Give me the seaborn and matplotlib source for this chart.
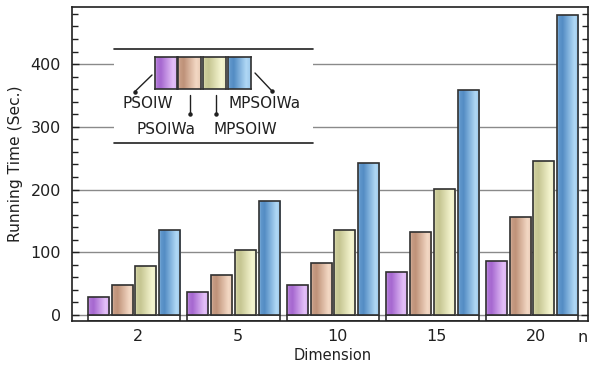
import numpy as np
import pandas as pd
import matplotlib
matplotlib.use("Agg")
import matplotlib.pyplot as plt
from matplotlib.colors import to_rgb
from matplotlib.patches import Rectangle
from matplotlib.transforms import ScaledTranslation
import seaborn as sns

# Running time per problem dimension for each algorithm
dimensions = ["2", "5", "10", "15", "20"]
methods = ["PSOIW", "PSOIWa", "MPSOIW", "MPSOIWa"]
psoiw = [28, 36, 48, 68, 86]
psoiwa = [48, 63, 83, 132, 156]
mpsoiw = [78, 103, 136, 201, 246]
mpsoiwa = [136, 181, 243, 359, 479]
series = [psoiw, psoiwa, mpsoiw, mpsoiwa]

# dark / light shade pairs used for the cylinder-like bar shading
shades = {
    "PSOIW": ("#a668d0", "#e4c0f8"),
    "PSOIWa": ("#bf9279", "#f3d8c4"),
    "MPSOIW": ("#c6c692", "#f5f5d0"),
    "MPSOIWa": ("#538cc4", "#b0d8f5"),
}
base = {m: tuple(0.5 * np.array(to_rgb(d)) + 0.5 * np.array(to_rgb(l)))
        for m, (d, l) in shades.items()}

df = pd.DataFrame({
    "Dimension": np.repeat(dimensions, len(methods)),
    "Method": methods * len(dimensions),
    "Time": [series[j][i] for i in range(len(dimensions)) for j in range(len(methods))],
})

sns.set_theme(style="white")
plt.rcParams["font.family"] = ["DejaVu Sans"]

W, H = 599, 370
fig = plt.figure(figsize=(W / 100, H / 100), dpi=100)
ax = fig.add_axes([72 / W, 1 - 321 / H, 516 / W, 314 / H])

sns.barplot(data=df, x="Dimension", y="Time", hue="Method", order=dimensions,
            hue_order=methods, palette=base, width=0.96, gap=0.12,
            edgecolor="#303030", linewidth=1.2, legend=False, ax=ax, zorder=3)

YMIN, YMAX = -9.6, 491
XMIN, XMAX = -0.623, 4.563

# shading profile across each bar: 0 -> dark tone, 1 -> light tone
prof_x = np.array([0.0, 0.08, 0.25, 0.55, 0.8, 1.0])
prof_v = np.array([0.75, 0.15, 0.0, 0.55, 1.0, 0.8])
xs = np.linspace(0, 1, 64)
mix = np.interp(xs, prof_x, prof_v)

bars = [p for p in ax.patches if isinstance(p, Rectangle) and p.get_height() > 0]
for k, p in enumerate(bars):
    m = methods[k // len(dimensions)]
    d, l = (np.array(to_rgb(c)) for c in shades[m])
    grad = (d[None, :] * (1 - mix[:, None]) + l[None, :] * mix[:, None])[None, :, :]
    x0, y0 = p.get_x(), p.get_y()
    im = ax.imshow(grad, extent=(x0, x0 + p.get_width(), y0, y0 + p.get_height()),
                   aspect="auto", zorder=3.5, interpolation="bilinear")
    im.set_clip_path(p)
    p.set_zorder(4)
    p.set_facecolor("none")

# white tray under each group of bars
for i in range(len(dimensions)):
    grp = bars[i::len(dimensions)]
    left = min(b.get_x() for b in grp)
    right = max(b.get_x() + b.get_width() for b in grp)
    ax.add_patch(Rectangle((left, YMIN), right - left, -YMIN, facecolor="white",
                           edgecolor="#303030", linewidth=1.2, zorder=2.5))

ax.set_xlim(XMIN, XMAX)
ax.set_ylim(YMIN, YMAX)

# axes styling
for s in ax.spines.values():
    s.set_visible(True)
    s.set_color("#202020")
    s.set_linewidth(1.2)
ax.set_yticks([0, 100, 200, 300, 400])
ax.set_yticks(np.arange(0, 491, 20), minor=True)
ax.yaxis.grid(True, which="major", color="#8a8a8a", linewidth=1.0, zorder=1)
ax.set_axisbelow(True)
ax.tick_params(axis="y", which="both", direction="in", left=True, right=True,
               color="#202020", labelsize=11.5, pad=8, colors="#202020")
ax.tick_params(axis="y", which="major", length=5, width=1)
ax.tick_params(axis="y", which="minor", length=4, width=1)
ax.tick_params(axis="x", length=0, labelsize=11.5, pad=6, colors="#202020")
shift = ScaledTranslation(4 / 100, 0, fig.dpi_scale_trans)
for lab in ax.get_xticklabels():
    lab.set_transform(lab.get_transform() + shift)
ax.set_xlabel("Dimension", fontsize=10.5, color="#202020", labelpad=0)
ax.xaxis.set_label_coords((333 - 72) / 516, -0.087)
ax.set_ylabel("Running Time (Sec.)", fontsize=11.2, color="#202020", labelpad=5)
ax.text(583 / W, 1 - 338 / H, "n", transform=fig.transFigure, ha="center",
        va="center", fontsize=11.5, color="#202020")

# custom legend drawn in pixel coordinates
def px(x, y):
    return (x / W, 1 - y / H)

tf = fig.transFigure
fig.patches.append(Rectangle(px(114, 143.5), (313 - 114) / W, (143.5 - 48.5) / H,
                             transform=tf, facecolor="white", edgecolor="none", zorder=5))
for yy in (48.5, 143.5):
    fig.lines.append(plt.Line2D([114 / W, 313 / W], [1 - yy / H] * 2, transform=tf,
                                color="#202020", linewidth=1.2, zorder=6))

sw_left = [154.5, 178.5, 203.5, 228.5]
for m, x0 in zip(methods, sw_left):
    d, l = (np.array(to_rgb(c)) for c in shades[m])
    grad = (d[None, :] * (1 - mix[:, None]) + l[None, :] * mix[:, None])[None, :, :]
    fax = fig.add_axes([x0 / W, 1 - 89 / H, 22.5 / W, 32 / H], zorder=7)
    fax.imshow(grad, aspect="auto", extent=(0, 1, 0, 1), interpolation="bilinear")
    fax.set_xticks([]); fax.set_yticks([])
    for s in fax.spines.values():
        s.set_color("#303030"); s.set_linewidth(1.2)

labels = [("PSOIW", 148, 104), ("PSOIWa", 166, 129),
          ("MPSOIW", 245, 129), ("MPSOIWa", 265, 104)]
for txt, x, y in labels:
    fig.text(*px(x, y), txt, ha="center", va="center", fontsize=11,
             color="#202020", zorder=8)

leaders = [((152, 75), (135, 91.5)), ((190, 95), (190, 114)),
           ((216, 95), (216, 114)), ((255, 73), (271.5, 90.5))]
for (xa, ya), (xb, yb) in leaders:
    fig.lines.append(plt.Line2D([xa / W, xb / W], [1 - ya / H, 1 - yb / H],
                                transform=tf, color="#202020", linewidth=1.0, zorder=8))
    fig.lines.append(plt.Line2D([xb / W], [1 - yb / H], transform=tf, marker="o",
                                markersize=2.2, color="#202020", zorder=8))

fig.savefig("out.png", dpi=100)
